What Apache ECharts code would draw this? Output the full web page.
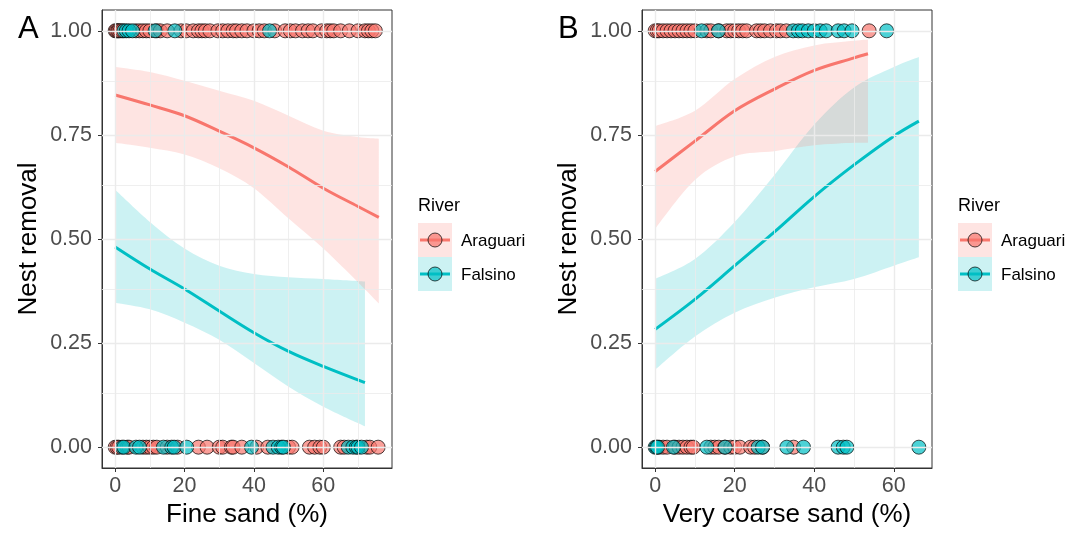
<!DOCTYPE html>
<html>
<head>
<meta charset="utf-8">
<script src="https://cdn.jsdelivr.net/npm/echarts@6/dist/echarts.min.js"></script>
<style>
  html, body { margin: 0; padding: 0; background: #fff; }
  #main { width: 1075px; height: 533px; }
</style>
</head>
<body>
<div id="main"></div>
<script>
// ---- panel A: fine sand ----
const fineAraX = [0, 10, 20, 30, 40, 50, 60, 70, 76]
const fineAraFit = [0.846, 0.822, 0.796, 0.759, 0.719, 0.673, 0.622, 0.578, 0.552]
const fineAraHi = [0.913, 0.901, 0.880, 0.856, 0.832, 0.796, 0.760, 0.745, 0.741]
const fineAraLo = [0.731, 0.719, 0.703, 0.670, 0.622, 0.549, 0.477, 0.396, 0.345]
const fineFalX = [0, 10, 20, 30, 40, 50, 60, 72]
const fineFalFit = [0.481, 0.428, 0.380, 0.327, 0.275, 0.230, 0.194, 0.155]
const fineFalHi = [0.618, 0.541, 0.477, 0.436, 0.416, 0.408, 0.404, 0.398]
const fineFalLo = [0.347, 0.331, 0.299, 0.258, 0.202, 0.145, 0.097, 0.050]
// observed nests (x = % fine sand), removed (1) or not (0)
const fineAraRemoved = [0, 0.3, 0.7, 1, 1.4, 2, 6, 7, 8, 9, 10, 12, 13, 15, 19, 20.5, 22.5, 24, 25, 26, 27.3,
  29.6, 31, 32.5, 34, 35, 36.5, 38, 40, 41.5, 43, 46, 49, 50.5, 52, 54, 55.6, 57, 59.5, 61, 62, 63, 65,
  67.5, 70, 72, 73, 74, 75]
const fineFalRemoved = [2.5, 3.2, 4, 5, 11.5, 17.2, 44.5]
const fineAraKept = [0, 0.5, 1, 3.5, 4, 8, 9, 10, 11, 12, 15, 18, 24, 26.5, 30, 31, 33.5, 34, 36.5, 40.8, 44,
  50, 51, 56, 57.5, 59, 60, 65, 66, 72.5, 73.4, 75.8]
const fineFalKept = [2, 2.5, 6, 7, 13.9, 16.3, 17, 20.6, 39.3, 45.5, 47, 48, 48.5, 67.2, 68.5, 69.5, 70, 71]

// ---- panel B: very coarse sand ----
const coarseAraX = [0, 10, 20, 30, 40, 50, 53.5]
const coarseAraFit = [0.662, 0.735, 0.808, 0.860, 0.905, 0.935, 0.945]
const coarseAraHi = [0.771, 0.808, 0.884, 0.937, 0.965, 0.976, 0.979]
const coarseAraLo = [0.525, 0.642, 0.699, 0.711, 0.725, 0.731, 0.731]
const coarseFalX = [0, 10, 20, 30, 40, 50, 60, 66.3]
const coarseFalFit = [0.283, 0.355, 0.436, 0.517, 0.602, 0.678, 0.747, 0.783]
const coarseFalHi = [0.404, 0.452, 0.541, 0.654, 0.775, 0.864, 0.913, 0.937]
const coarseFalLo = [0.186, 0.266, 0.323, 0.359, 0.384, 0.404, 0.436, 0.456]
const coarseAraRemoved = [0, 0.5, 1, 2, 3, 4, 5, 6, 7, 8, 9, 10, 13, 14, 16, 18, 19, 20, 21, 22, 23, 25.5,
  26.5, 27.5, 29, 30.5, 31.5, 33, 53.8]
const coarseFalRemoved = [11.7, 15.9, 34.7, 36, 37, 38.5, 40, 41.5, 43, 46, 47.5, 49.5, 58.2]
const coarseAraKept = [1, 2, 3, 5, 6, 7, 8, 9, 9.6, 14, 15, 16, 17.5, 19, 20, 21.3, 24, 25, 27, 34.8]
const coarseFalKept = [0, 0.3, 0.6, 4.6, 13, 17.6, 25.9, 27, 33.1, 37.3, 46, 47.3, 48.2, 66.3]

const xTicks = [0, 20, 40, 60]
const xMinor = [10, 30, 50, 70]
const yTicks = [0, 0.25, 0.5, 0.75, 1]
const yMinor = [0.125, 0.375, 0.625, 0.875]
const rivers = ['Araguari', 'Falsino']

const PINK = '#F8766D'
const TEAL = '#00BFC4'
const PINK_BAND = 'rgba(248,118,109,0.2)'
const TEAL_BAND = 'rgba(0,191,196,0.2)'
const FONT = '"Liberation Sans", Helvetica, Arial, sans-serif'

const chart = echarts.init(document.getElementById('main'))

const xAxisOf = (i, name, min, max) => ({
  gridIndex: i, type: 'value', min: min, max: max,
  name: name, nameLocation: 'middle', nameGap: 34,
  nameTextStyle: { fontSize: 26, color: '#000', fontFamily: FONT },
  axisLine: { show: true, onZero: false, lineStyle: { color: '#333', width: 1 } },
  axisTick: { show: true, length: 4, customValues: xTicks, lineStyle: { color: '#333' } },
  axisLabel: { customValues: xTicks, fontSize: 21.5, color: '#4D4D4D', margin: 7, fontFamily: FONT },
  splitLine: { show: false }
})
const yAxisOf = i => ({
  gridIndex: i, type: 'value', min: -0.05, max: 1.05,
  name: 'Nest removal', nameLocation: 'middle', nameGap: 60,
  nameTextStyle: { fontSize: 26, color: '#000', fontFamily: FONT },
  axisLine: { show: true, onZero: false, lineStyle: { color: '#333', width: 1 } },
  axisTick: { show: true, length: 4, customValues: yTicks, lineStyle: { color: '#333' } },
  axisLabel: { customValues: yTicks, fontSize: 21.5, color: '#4D4D4D', margin: 10, fontFamily: FONT,
    formatter: v => v.toFixed(2) },
  splitLine: { show: false }
})

// smooth path through screen points (catmull-rom as cubic beziers)
const curve = (pts, start) => {
  let d = start ? `M${pts[0][0]},${pts[0][1]}` : `L${pts[0][0]},${pts[0][1]}`
  for (let i = 0; i < pts.length - 1; i++) {
    const p0 = pts[Math.max(i - 1, 0)], p1 = pts[i], p2 = pts[i + 1], p3 = pts[Math.min(i + 2, pts.length - 1)]
    const c1 = [p1[0] + (p2[0] - p0[0]) / 6, p1[1] + (p2[1] - p0[1]) / 6]
    const c2 = [p2[0] - (p3[0] - p1[0]) / 6, p2[1] - (p3[1] - p1[1]) / 6]
    d += ` C${c1[0]},${c1[1]} ${c2[0]},${c2[1]} ${p2[0]},${p2[1]}`
  }
  return d
}

const band = (i, xs, lo, hi, color) => ({
  type: 'custom', xAxisIndex: i, yAxisIndex: i, z: 2, silent: true,
  data: xs.map((x, k) => [x, lo[k], hi[k]]),
  encode: { x: 0, y: [1, 2] },
  renderItem: (params, api) => {
    if (params.dataIndex !== 0) return
    const up = xs.map((x, k) => api.coord([x, hi[k]]))
    const dn = xs.map((x, k) => api.coord([x, lo[k]])).reverse()
    return {
      type: 'path',
      shape: { pathData: curve(up, true) + ' ' + curve(dn, false) + ' Z' },
      style: { fill: color }
    }
  }
})

const fit = (i, xs, ys, color) => ({
  type: 'line', xAxisIndex: i, yAxisIndex: i, z: 3, silent: true,
  data: xs.map((x, k) => [x, ys[k]]),
  smooth: 0.35, symbol: 'none',
  lineStyle: { color: color, width: 3 }
})

const dots = (i, name, removed, kept, color) => ({
  type: 'scatter', name: name, xAxisIndex: i, yAxisIndex: i, z: 4,
  data: removed.map(x => [x, 1]).concat(kept.map(x => [x, 0])),
  symbolSize: 14,
  itemStyle: { color: color, opacity: 0.7, borderColor: '#000', borderWidth: 1 }
})

const gridLines = i => [
  { xs: xMinor, ys: yMinor, w: 0.8 },
  { xs: xTicks, ys: yTicks, w: 1.4 }
].map(g => ({
  type: 'line', xAxisIndex: i, yAxisIndex: i, z: 1, silent: true, data: [],
  markLine: {
    silent: true, symbol: ['none', 'none'], animation: false,
    label: { show: false },
    lineStyle: { color: '#EBEBEB', width: g.w, type: 'solid' },
    data: g.xs.map(v => ({ xAxis: v })).concat(g.ys.map(v => ({ yAxis: v })))
  }
}))

const legendAt = ox => {
  const items = [
    { label: rivers[0], color: PINK, bg: PINK_BAND, y: 223 },
    { label: rivers[1], color: TEAL, bg: TEAL_BAND, y: 257 }
  ]
  const els = [{
    type: 'text', x: ox, y: 206,
    style: { text: 'River', fontSize: 18, fill: '#000', fontFamily: FONT, verticalAlign: 'middle' }
  }]
  for (const it of items) {
    const cy = it.y + 17
    els.push(
      { type: 'rect', shape: { x: ox, y: it.y, width: 34, height: 34 }, style: { fill: it.bg } },
      { type: 'line', shape: { x1: ox + 2, y1: cy, x2: ox + 32, y2: cy }, style: { stroke: it.color, lineWidth: 3 } },
      { type: 'circle', shape: { cx: ox + 17, cy: cy, r: 7 },
        style: { fill: it.color, stroke: '#000', lineWidth: 1, opacity: 0.7 } },
      { type: 'text', x: ox + 43, y: cy + 1,
        style: { text: it.label, fontSize: 17, fill: '#000', fontFamily: FONT, verticalAlign: 'middle' } }
    )
  }
  return els
}

chart.setOption({
  animation: false,
  title: [
    { text: 'A', left: 13, top: 9, textStyle: { fontSize: 31, fontWeight: 'normal', color: '#000', fontFamily: FONT } },
    { text: 'B', left: 553, top: 9, textStyle: { fontSize: 31, fontWeight: 'normal', color: '#000', fontFamily: FONT } }
  ],
  grid: [
    { left: 102, top: 10, width: 290, height: 463, show: true, borderColor: '#333', borderWidth: 1 },
    { left: 642, top: 10, width: 290, height: 463, show: true, borderColor: '#333', borderWidth: 1 }
  ],
  xAxis: [xAxisOf(0, 'Fine sand (%)', -3.8, 79.8), xAxisOf(1, 'Very coarse sand (%)', -3.3, 69.6)],
  yAxis: [yAxisOf(0), yAxisOf(1)],
  graphic: legendAt(418).concat(legendAt(958)),
  series: [
    ...gridLines(0), ...gridLines(1),
    band(0, fineFalX, fineFalLo, fineFalHi, TEAL_BAND),
    band(0, fineAraX, fineAraLo, fineAraHi, PINK_BAND),
    band(1, coarseFalX, coarseFalLo, coarseFalHi, TEAL_BAND),
    band(1, coarseAraX, coarseAraLo, coarseAraHi, PINK_BAND),
    fit(0, fineAraX, fineAraFit, PINK),
    fit(0, fineFalX, fineFalFit, TEAL),
    fit(1, coarseAraX, coarseAraFit, PINK),
    fit(1, coarseFalX, coarseFalFit, TEAL),
    dots(0, rivers[0], fineAraRemoved, fineAraKept, PINK),
    dots(0, rivers[1], fineFalRemoved, fineFalKept, TEAL),
    dots(1, rivers[0], coarseAraRemoved, coarseAraKept, PINK),
    dots(1, rivers[1], coarseFalRemoved, coarseFalKept, TEAL)
  ]
})
</script>
</body>
</html>
